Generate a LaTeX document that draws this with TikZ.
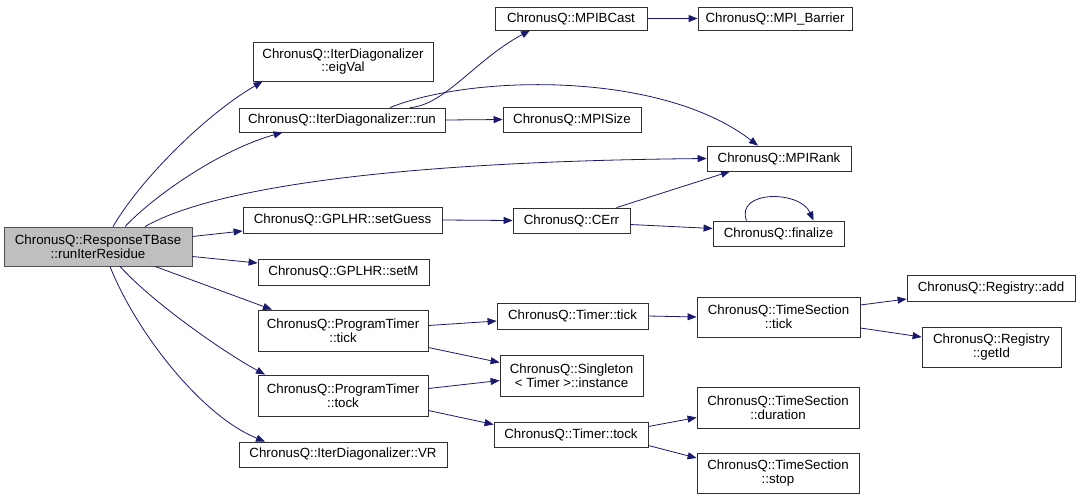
\documentclass[tikz,border=0pt]{standalone}
\usepackage{fontspec}
\setmainfont{Liberation Sans}
\usetikzlibrary{arrows.meta}
\definecolor{edgec}{HTML}{191970}
\definecolor{boxc}{HTML}{303030}
\definecolor{rootfill}{HTML}{BFBFBF}
\definecolor{rootdraw}{HTML}{505050}
\begin{document}
\begin{tikzpicture}[x=1pt,y=-1pt,
  box/.style={draw=boxc, line width=0.8pt, fill=white, inner sep=0pt, align=center,
              font=\fontsize{13.3}{13.8}\selectfont},
  rootbox/.style={box, fill=rootfill, draw=rootdraw},
  edge/.style={draw=edgec, line width=0.8pt, -{Triangle[length=9pt,width=7pt]}}]
\useasboundingbox (0,0) rectangle (1080,499);
\fill[white] (0,0) rectangle (1080,499);

% nodes
\node[rootbox, minimum width=188pt, minimum height=39pt] (root) at (98,246.5) {ChronusQ::ResponseTBase\\::runIterResidue};
\node[box, minimum width=180pt, minimum height=39pt] (eig) at (343,61.5) {ChronusQ::IterDiagonalizer\\::eigVal};
\node[box, minimum width=206pt, minimum height=24pt] (run) at (342,120) {ChronusQ::IterDiagonalizer::run};
\node[box, minimum width=152pt, minimum height=23pt] (bcast) at (571,18.5) {ChronusQ::MPIBCast};
\node[box, minimum width=154pt, minimum height=23pt] (barrier) at (775,18.5) {ChronusQ::MPI\_Barrier};
\node[box, minimum width=138pt, minimum height=25pt] (size) at (572,119.5) {ChronusQ::MPISize};
\node[box, minimum width=144pt, minimum height=25pt] (rank) at (779,158.5) {ChronusQ::MPIRank};
\node[box, minimum width=117pt, minimum height=25pt] (cerr) at (571.5,220.5) {ChronusQ::CErr};
\node[box, minimum width=131pt, minimum height=25pt] (fin) at (778.5,233.5) {ChronusQ::finalize};
\node[box, minimum width=199pt, minimum height=26pt] (guess) at (342.5,220) {ChronusQ::GPLHR::setGuess};
\node[box, minimum width=171pt, minimum height=26pt] (setm) at (343.5,272) {ChronusQ::GPLHR::setM};
\node[box, minimum width=170pt, minimum height=41pt] (pttick) at (343,330.5) {ChronusQ::ProgramTimer\\::tick};
\node[box, minimum width=151pt, minimum height=26pt] (ttick) at (572.5,316) {ChronusQ::Timer::tick};
\node[box, minimum width=143pt, minimum height=41pt] (single) at (571.5,375.5) {ChronusQ::Singleton\\< Timer >::instance};
\node[box, minimum width=170pt, minimum height=41pt] (pttock) at (343,395.5) {ChronusQ::ProgramTimer\\::tock};
\node[box, minimum width=154pt, minimum height=25pt] (ttock) at (571,434.5) {ChronusQ::Timer::tock};
\node[box, minimum width=208pt, minimum height=25pt] (vr) at (343,454.5) {ChronusQ::IterDiagonalizer::VR};
\node[box, minimum width=163pt, minimum height=40pt] (tstick) at (778.5,317) {ChronusQ::TimeSection\\::tick};
\node[box, minimum width=168pt, minimum height=26pt] (radd) at (991,288) {ChronusQ::Registry::add};
\node[box, minimum width=139pt, minimum height=40pt] (getid) at (991.5,347) {ChronusQ::Registry\\::getId};
\node[box, minimum width=162pt, minimum height=41pt] (dur) at (778,407.5) {ChronusQ::TimeSection\\::duration};
\node[box, minimum width=162pt, minimum height=40pt] (stop) at (778,473) {ChronusQ::TimeSection\\::stop};

% edges
\draw[edge] ([xshift=15pt]root.north) .. controls (140,180) and (205,115) .. ([xshift=10pt]eig.south west);
\draw[edge] ([xshift=27pt]root.north) .. controls (155,195) and (220,150) .. ([xshift=44pt]run.south west);
\draw[edge] ([xshift=47pt]root.north) .. controls (200,195) and (350,162) .. (rank.west);
\draw[edge] ([xshift=68pt]run.north) .. controls (445,105) and (475,60) .. ([xshift=-41pt]bcast.south);
\draw[edge] ([xshift=48pt]run.north) .. controls (470,75) and (660,70) .. ([xshift=-21pt]rank.north);
\draw[edge] (run.east) -- (size.west);
\draw[edge] (bcast.east) -- (barrier.west);
\draw[edge] ([yshift=10pt]root.east) -- ([yshift=-11pt]guess.west);
\draw[edge] ([yshift=-10pt]root.east) -- ([yshift=9pt]setm.west);
\draw[edge] (guess.east) -- (cerr.west);
\draw[edge] ([xshift=45pt]cerr.north) -- ([xshift=-49pt]rank.south);
\draw[edge] ([yshift=-4pt]cerr.east) -- ([yshift=5pt]fin.west);
\draw[edge] ([xshift=-32pt]fin.north) .. controls (735,190) and (800,190) .. ([xshift=35pt]fin.north);
\draw[edge] ([xshift=57pt]root.south) -- ([xshift=-71pt]pttick.north);
\draw[edge] ([xshift=22pt]root.south) .. controls (150,300) and (220,350) .. ([xshift=-78pt]pttock.north);
\draw[edge] ([xshift=12pt]root.south) .. controls (135,330) and (200,415) .. ([xshift=-78pt]vr.north);
\draw[edge] ([yshift=5pt]pttick.east) -- ([yshift=-5pt]ttick.west);
\draw[edge] ([yshift=-17pt]pttick.east) -- ([yshift=13pt]single.west);
\draw[edge] ([yshift=7pt]pttock.east) -- ([yshift=-5pt]single.west);
\draw[edge] ([yshift=-15pt]pttock.east) -- ([yshift=10pt]ttock.west);
\draw[edge] (ttick.east) -- (tstick.west);
\draw[edge] ([yshift=12pt]tstick.east) -- ([yshift=-11pt]radd.west);
\draw[edge] ([yshift=-11pt]tstick.east) -- ([yshift=10pt]getid.west);
\draw[edge] ([yshift=8pt]ttock.east) -- ([yshift=-10pt]dur.west);
\draw[edge] ([yshift=-11pt]ttock.east) -- ([yshift=15pt]stop.west);
\end{tikzpicture}
\end{document}
